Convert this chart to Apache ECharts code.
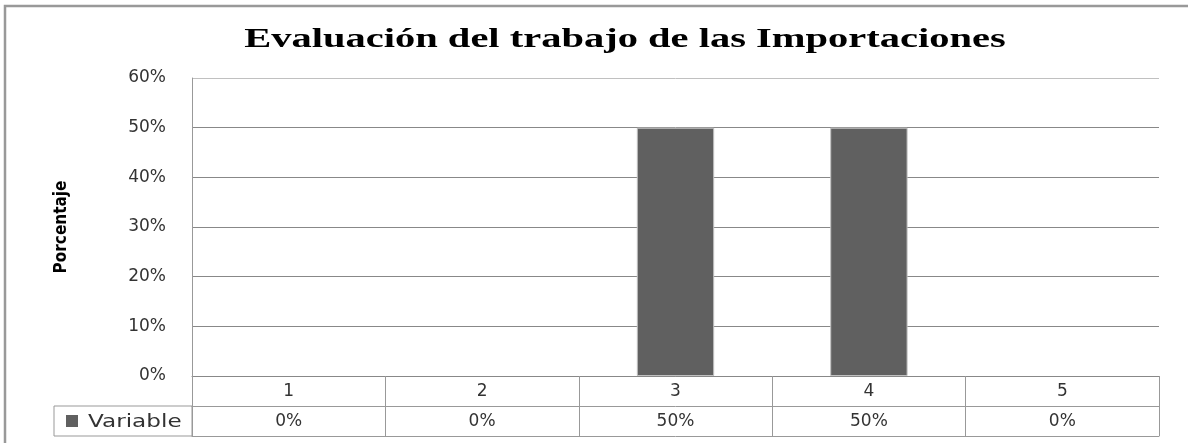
<!DOCTYPE html>
<html>
<head>
<meta charset="utf-8">
<title>Evaluación del trabajo de las Importaciones</title>
<script src="https://cdn.jsdelivr.net/npm/echarts@6/dist/echarts.min.js"></script>
<style>
    html, body { margin: 0; padding: 0; background: #fff; }
    #chart { width: 1188px; height: 443px; }
</style>
</head>
<body>
<div id="chart"></div>
<script>
// datos
var categories = ["1", "2", "3", "4", "5"];
var seriesName = "Variable";
var values = [0, 0, 0.5, 0.5, 0];
var yTicks = [0, 0.1, 0.2, 0.3, 0.4, 0.5, 0.6];
var chartTitle = "Evaluación del trabajo de las Importaciones";
var yName = "Porcentaje";

var barColor = "#606060";
var lineColor = "#999";
var labelFont = "DejaVu Sans";

function pct(v) {
    return Math.round(v * 100) + "%";
}

var chart = echarts.init(document.getElementById("chart"));

// las barras en cero no llevan borde
var barData = values.map(function (v) {
    return { value: v, itemStyle: { borderWidth: v > 0 ? 1 : 0 } };
});

var option = {
    animation: false,
    grid: { left: 192, right: 29, top: 78, bottom: 67 },
    xAxis: [
        {
            // fila de categorias
            type: "category",
            data: categories,
            position: "bottom",
            axisLine: { lineStyle: { color: "#888", width: 1 } },
            axisTick: { show: true, interval: 0, length: 60, lineStyle: { color: lineColor } },
            axisLabel: { fontFamily: labelFont, fontSize: 17, color: "#333", margin: 7 }
        },
        {
            // fila de valores
            type: "category",
            data: categories,
            position: "bottom",
            offset: 30,
            axisLine: { lineStyle: { color: lineColor } },
            axisTick: { show: false },
            axisLabel: {
                fontFamily: labelFont, fontSize: 17, color: "#333", margin: 7,
                formatter: function (v, i) { return pct(values[i]); }
            }
        },
        {
            // borde inferior de la tabla
            type: "category",
            data: categories,
            position: "bottom",
            offset: 60,
            axisLine: { lineStyle: { color: lineColor } },
            axisTick: { show: false },
            axisLabel: { show: false }
        }
    ],
    yAxis: {
        type: "value",
        min: yTicks[0],
        max: yTicks[yTicks.length - 1],
        interval: 0.1,
        name: yName,
        nameLocation: "middle",
        nameRotate: 90,
        nameGap: 122,
        nameTextStyle: {
            fontFamily: "'DejaVu Sans Condensed', 'Liberation Sans', sans-serif",
            fontWeight: "bold",
            fontSize: 17,
            color: "#000"
        },
        axisLine: { show: true, lineStyle: { color: lineColor } },
        axisTick: { show: false },
        axisLabel: {
            fontFamily: labelFont, fontSize: 17, color: "#333", margin: 26,
            formatter: function (v) { return pct(v); }
        },
        splitLine: {
            lineStyle: { color: ["#888", "#888", "#888", "#888", "#888", "#888", "#c0c0c0"] }
        }
    },
    series: [
        {
            name: seriesName,
            type: "bar",
            xAxisIndex: 0,
            data: barData,
            barWidth: "40%",
            itemStyle: { color: barColor, borderColor: "#c0c0c0", borderWidth: 1 }
        }
    ],
    graphic: [
        {
            // marco exterior (solo izquierda y arriba)
            type: "polyline",
            shape: { points: [[5, 443], [5, 6], [1188, 6]] },
            style: { stroke: lineColor, lineWidth: 2.5, fill: null }
        },
        {
            // titulo ensanchado como en la imagen
            type: "text",
            x: 625,
            y: 27,
            scaleX: 1.5,
            style: {
                text: chartTitle,
                font: "bold 27px 'Liberation Serif'",
                fill: "#000",
                align: "center",
                verticalAlign: "top"
            }
        },
        {
            // celda de leyenda de la tabla
            type: "group",
            x: 54,
            y: 406,
            children: [
                {
                    type: "rect",
                    shape: { x: 0, y: 0, width: 138, height: 30 },
                    style: { stroke: lineColor, fill: null, lineWidth: 1 }
                },
                {
                    type: "rect",
                    shape: { x: 12, y: 9, width: 12, height: 12 },
                    style: { fill: barColor }
                },
                {
                    type: "text",
                    x: 34,
                    y: 17,
                    scaleX: 1.36,
                    style: {
                        text: seriesName,
                        font: "17px 'DejaVu Sans'",
                        fill: "#333",
                        verticalAlign: "middle"
                    }
                }
            ]
        }
    ]
};

chart.setOption(option);
</script>
</body>
</html>
